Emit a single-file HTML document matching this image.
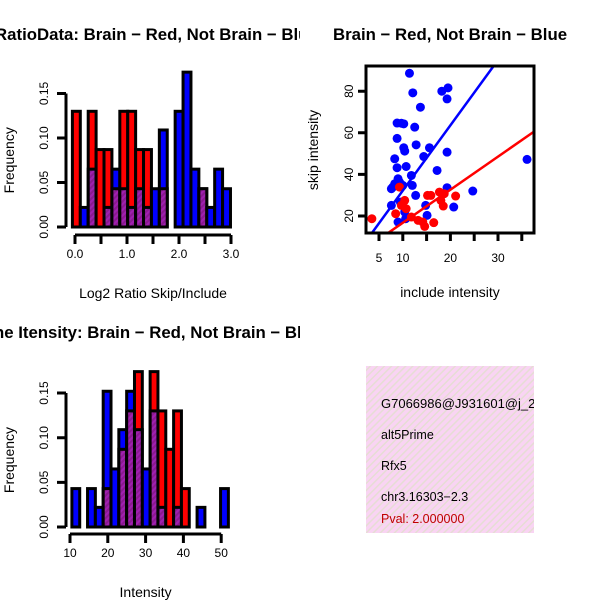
<!DOCTYPE html>
<html><head><meta charset="utf-8"><style>
body{margin:0;background:#fff}
svg{display:block;font-family:"Liberation Sans",sans-serif}
</style></head><body>
<svg id="c" width="600" height="600" viewBox="0 0 600 600">
<defs>
<pattern id="ph" width="5" height="5" patternUnits="userSpaceOnUse" patternTransform="rotate(45)">
<rect width="5" height="5" fill="#f9d4f3"/><rect width="1.5" height="5" fill="#e6ddd4"/></pattern>
<pattern id="pp" width="4" height="4" patternUnits="userSpaceOnUse" patternTransform="rotate(45)">
<rect width="4" height="4" fill="#a020b0"/><rect width="2" height="4" fill="#8a1a90"/></pattern>
<clipPath id="left"><rect x="0" y="0" width="300" height="600"/></clipPath>
<clipPath id="infoclip"><rect x="366" y="366" width="168" height="167"/></clipPath>
</defs>
<g id="g1" clip-path="url(#left)"></g><g id="g2" clip-path="url(#left)"></g><g id="g3"></g>
<g clip-path="url(#infoclip)">
<rect x="366" y="366" width="168" height="167" fill="url(#ph)"/>
<text x="381" y="408" font-size="13">G7066986@J931601@j_2</text>
<text x="381" y="439" font-size="12.5">alt5Prime</text>
<text x="381" y="470" font-size="12.5">Rfx5</text>
<text x="381" y="501" font-size="12.5">chr3.16303−2.3</text>
<text x="381" y="523" font-size="12.5" fill="#c00000">Pval: 2.000000</text>
</g>
</svg>
<script>
// Top-left histogram data (log2 ratio)
const ratioStart=-0.05, ratioBin=0.152;
const ratioRed=[0.13,0,0.13,0.087,0.087,0.043,0.13,0.13,0.087,0.087,0,0.043,0,0,0,0,0.043,0,0,0];
const ratioBlue=[0,0.022,0.065,0,0.022,0.065,0.043,0.022,0.043,0.022,0.043,0.109,0,0.13,0.174,0.065,0.043,0.022,0.065,0.043];
const ratioTicks=["0.0","0.5","1.0","1.5","2.0","2.5","3.0"];
// Bottom-left histogram data (intensity)
const intStart=10.5, intBin=2.07;
const intRed=[0,0,0,0,0.043,0,0.087,0.13,0.174,0,0.174,0.13,0.087,0.13,0.043,0,0,0,0,0];
const intBlue=[0.043,0,0.043,0.022,0.152,0.065,0.109,0.152,0.109,0.065,0.13,0.022,0,0.022,0,0,0.022,0,0,0.043];
const intTicks=[10,20,30,40,50];
const freqTicks=["0.00","0.05","0.10","0.15"];
// Scatter data
const blueX=[11.4,12.1,13.7,18.2,19.5,19.3,8.8,9.7,10.2,12.5,8.8,10.2,10.4,12.8,15.6,8.3,14.4,19.3,8.8,10.7,17.2,11.8,9.0,9.3,8.3,7.6,7.9,10.0,12.0,12.7,19.3,24.7,36.1,7.6,9.5,14.8,10.4,9.0,10.6,15.1,20.7];
const blueY=[88.6,79.2,72.3,80,81.6,76.3,64.7,64.6,64.3,62.7,57.3,52.8,51.2,54.2,52.8,47.5,48.6,50.7,43.2,43.8,41.9,39.5,37.9,36.3,35.5,33.1,33.9,34.7,34.7,29.9,33.6,32,47.2,25.1,26.7,25.1,21.9,17.1,18.7,20.3,24.3];
const redX=[3.5,8.5,10.4,9.7,10.7,11.8,13.2,14.6,16.5,14.2,15.2,15.9,17.7,18.7,18.0,18.5,21.1,9.3];
const redY=[18.7,21.1,27.5,25.1,23.5,19.5,17.9,15,16.8,17.1,29.9,29.9,31.5,30.7,27.5,24.8,29.6,33.9];
const blueFit=[0.8,3.14], redFit=[0.85,1.59];
const scXTicks=[5,10,15,20,25,30,35], scXLabels=["5","10","","20","","30",""];
const scYTicks=[20,40,60,80];

const NS="http://www.w3.org/2000/svg";
function mk(p,t,a){const e=document.createElementNS(NS,t);for(const k in a)e.setAttribute(k,a[k]);p.appendChild(e);return e;}

function hist(g,o){
  const sx=v=>o.x0+(v-o.v0)*o.kx, sy=f=>o.y0-f*o.ky;
  for(let i=0;i<o.red.length;i++){
    const a=o.start+i*o.bin,b=a+o.bin,r=o.red[i],bl=o.blue[i];
    const x=sx(a),w=sx(b)-sx(a);
    const hi=Math.max(r,bl),lo=Math.min(r,bl);
    if(hi<=0)continue;
    const bar=mk(g,'rect',{x:x,y:sy(hi),width:w,height:sy(0)-sy(hi),fill:r>=bl?'#ff0000':'#0000ff',stroke:'#000','stroke-width':3});
    
    
    if(lo>0){const ov=mk(g,'rect',{x:x,y:sy(lo),width:w,height:sy(0)-sy(lo),fill:'url(#pp)',stroke:'#000','stroke-width':3});
      
      }
  }
  const ya=mk(g,'path',{d:`M${o.yax} ${sy(0)}V${sy(0.15)}`+freqTicks.map((t,i)=>`M${o.yax} ${sy(i*0.05)}h-9`).join(''),stroke:'#000','stroke-width':3,fill:'none'});
  
  
  freqTicks.forEach((t,i)=>{const tx=mk(g,'text',{x:0,y:0,'font-size':12,'text-anchor':'middle',transform:`translate(${o.yax-18},${sy(i*0.05)}) rotate(-90)`});tx.textContent=t;
    
    });
  const yt=mk(g,'text',{x:0,y:0,'font-size':14,'text-anchor':'middle',transform:`translate(14,${(sy(0)+sy(0.15))/2}) rotate(-90)`});yt.textContent='Frequency';
  
  
  const tv=o.ticks.map(Number);
  const xa=mk(g,'path',{d:`M${sx(tv[0])} ${o.xay}H${sx(tv[tv.length-1])}`+tv.map(v=>`M${sx(v)} ${o.xay}v9`).join(''),stroke:'#000','stroke-width':3,fill:'none'});
  
  
  o.ticks.forEach((t,i)=>{if(o.skip&&i%2)return;const tx=mk(g,'text',{x:sx(tv[i]),y:o.xay+23,'font-size':12,'text-anchor':'middle'});tx.textContent=t;
    
    });
  const xt=mk(g,'text',{x:(sx(tv[0])+sx(tv[tv.length-1]))/2,y:o.xay+63,'font-size':14,'text-anchor':'middle'});xt.textContent=o.xtitle;
  
  
  const ti=mk(g,'text',{x:o.tx,y:o.ty,'font-size':16.8,'font-weight':'bold','text-anchor':'middle'});ti.textContent=o.title;
  
  
}
hist(document.getElementById('g1'),{id:'ratio',red:ratioRed,blue:ratioBlue,start:ratioStart,bin:ratioBin,v0:0,x0:75,kx:52,y0:227,ky:890,yax:66,xay:235,ticks:ratioTicks,skip:true,xtitle:'Log2 Ratio Skip/Include',title:'Log2 RatioData: Brain − Red, Not Brain − Blue',tx:134,ty:40});
hist(document.getElementById('g2'),{id:'intensity',red:intRed,blue:intBlue,start:intStart,bin:intBin,v0:10,x0:70,kx:3.78,y0:527,ky:893,yax:66,xay:534,ticks:intTicks,skip:false,xtitle:'Intensity',title:'Exon/Junction Line Itensity: Brain − Red, Not Brain − Blue',tx:90,ty:338});

(function(){
  const g=document.getElementById('g3');
  const L=366,T=66,R=534,B=233;
  const sx=v=>379+(v-5)*4.76, sy=v=>216-(v-20)*2.08;
  const cp=mk(g,'clipPath',{id:'sc'});mk(cp,'rect',{x:L,y:T,width:R-L,height:B-T});
  const pg=mk(g,'g',{'clip-path':'url(#sc)'});
  blueX.forEach((x,i)=>{const c=mk(pg,'circle',{cx:sx(x),cy:sy(blueY[i]),r:4.5,fill:'#0000ff'});
    
    });
  redX.forEach((x,i)=>{const c=mk(pg,'circle',{cx:sx(x),cy:sy(redY[i]),r:4.5,fill:'#ff0000'});
    
    });
  [[blueFit,'#0000ff','blue'],[redFit,'#ff0000','red']].forEach(([f,col,n])=>{
    const l=mk(pg,'line',{x1:sx(0),y1:sy(f[0]),x2:sx(40),y2:sy(f[0]+f[1]*40),stroke:col,'stroke-width':2.5});
    
    });
  const bx=mk(g,'rect',{x:L,y:T,width:R-L,height:B-T,fill:'none',stroke:'#000','stroke-width':3});
  
  
  const xa=mk(g,'path',{d:scXTicks.map(v=>`M${sx(v)} ${B}v8`).join(''),stroke:'#000','stroke-width':3});
  
  
  scXTicks.forEach((v,i)=>{if(!scXLabels[i])return;const t=mk(g,'text',{x:sx(v),y:262,'font-size':12,'text-anchor':'middle'});t.textContent=scXLabels[i];
    
    });
  const ya=mk(g,'path',{d:scYTicks.map(v=>`M${L} ${sy(v)}h-8`).join(''),stroke:'#000','stroke-width':3});
  
  
  scYTicks.forEach(v=>{const t=mk(g,'text',{x:0,y:0,'font-size':12,'text-anchor':'middle',transform:`translate(${L-13},${sy(v)}) rotate(-90)`});t.textContent=v;
    
    });
  const xt=mk(g,'text',{x:450,y:297,'font-size':14,'text-anchor':'middle'});xt.textContent='include intensity';
  
  
  const yt=mk(g,'text',{x:0,y:0,'font-size':14,'text-anchor':'middle',transform:`translate(318,150) rotate(-90)`});yt.textContent='skip intensity';
  
  
  const ti=mk(g,'text',{x:450,y:40,'font-size':16.8,'font-weight':'bold','text-anchor':'middle'});ti.textContent='Brain − Red, Not Brain − Blue';
  
  
})();
</script>
</body></html>
